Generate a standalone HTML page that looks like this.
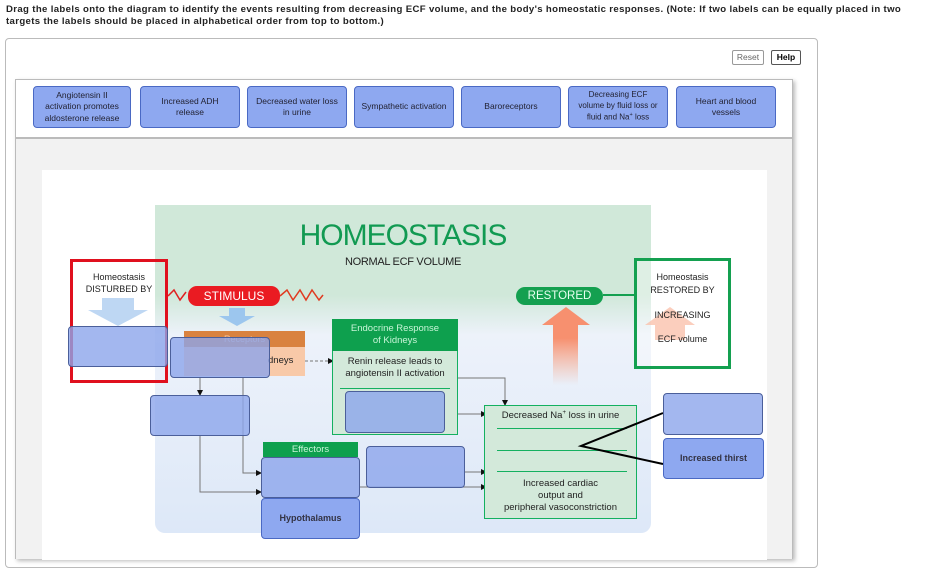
<!DOCTYPE html>
<html><head><meta charset="utf-8"><style>
*{box-sizing:border-box;margin:0;padding:0}
body{width:937px;height:554px;overflow:hidden;background:#fff;font-family:"Liberation Sans",Arial,sans-serif;position:relative}
.a{position:absolute}
.lbl{position:absolute;background:#8ea8f0;border:1px solid #4a69c4;border-radius:4px;font-size:8.5px;color:#223;display:flex;align-items:center;justify-content:center;text-align:center;line-height:1.35}
.drop{position:absolute;background:rgba(140,165,235,0.8);border:1.5px solid #4b5f9a;border-radius:4px}
.t{position:absolute;text-align:center;font-size:9px;color:#222}
</style></head><body>
<div class="a" style="left:6px;top:4px;width:912px;font-size:9.6px;letter-spacing:0.35px;font-weight:bold;color:#222;line-height:12px;white-space:nowrap">Drag the labels onto the diagram to identify the events resulting from decreasing ECF volume, and the body's homeostatic responses. (Note: If two labels can be equally placed in two<br>targets the labels should be placed in alphabetical order from top to bottom.)</div>
<div class="a" style="left:5px;top:38px;width:813px;height:530px;border:1px solid #bbb;border-radius:4px"></div>
<div class="a" style="left:732px;top:50px;width:32px;height:15px;border:1px solid #999;border-radius:2px;font-size:8.5px;color:#666;text-align:center;line-height:13px">Reset</div>
<div class="a" style="left:771px;top:50px;width:30px;height:15px;border:1px solid #555;border-radius:2px;font-size:8.5px;font-weight:bold;text-align:center;line-height:13px">Help</div>
<div class="a" style="left:15px;top:79px;width:778px;height:480px;border:1px solid #bbb;box-shadow:2px 2px 4px #bbb"></div>
<div class="a" style="left:16px;top:137px;width:776px;height:2px;background:#bbb"></div>
<div class="a" style="left:16px;top:139px;width:776px;height:420px;background:#f2f2f2"></div>
<div class="a" style="left:42px;top:170px;width:725px;height:390px;background:#fff"></div>

<div class="lbl" style="left:33px;top:86px;width:98px;height:42px"><span>Angiotensin II<br>activation promotes<br>aldosterone release</span></div>
<div class="lbl" style="left:140px;top:86px;width:100px;height:42px"><span>Increased ADH<br>release</span></div>
<div class="lbl" style="left:247px;top:86px;width:100px;height:42px"><span>Decreased water loss<br>in urine</span></div>
<div class="lbl" style="left:354px;top:86px;width:100px;height:42px"><span>Sympathetic activation</span></div>
<div class="lbl" style="left:461px;top:86px;width:100px;height:42px"><span>Baroreceptors</span></div>
<div class="lbl" style="left:568px;top:86px;width:100px;height:42px;font-size:8px"><span>Decreasing ECF<br>volume by fluid loss or<br>fluid and Na<sup style="font-size:5.5px">+</sup> loss</span></div>
<div class="lbl" style="left:676px;top:86px;width:100px;height:42px"><span>Heart and blood<br>vessels</span></div>

<div class="a" style="left:155px;top:205px;width:496px;height:328px;border-radius:0 0 10px 10px;background:linear-gradient(#d0e8d9 0,#d0e8d9 90px,#edf2fa 130px,#dde8f8 100%)"></div>
<div class="t" style="left:155px;top:219px;width:496px;font-size:30px;color:#119a52;letter-spacing:-1px">HOMEOSTASIS</div>
<div class="t" style="left:155px;top:256px;width:496px;font-size:11px;letter-spacing:-0.3px">NORMAL ECF VOLUME</div>

<svg class="a" style="left:0;top:0" width="937" height="554">
<defs>
<linearGradient id="lg" x1="0" x2="1"><stop offset="0" stop-color="#e0552a"/><stop offset="1" stop-color="#2aa856"/></linearGradient>
<linearGradient id="ra" x1="0" y1="1" x2="0" y2="0"><stop offset="0" stop-color="#f9a88a" stop-opacity="0"/><stop offset="0.6" stop-color="#f7906f"/></linearGradient>
</defs>
<polyline points="168,296 174,290 180,300 186,292" fill="none" stroke="#e02020" stroke-width="1.5"/>
<polyline points="280,296 287,290 293,300 300,290 306,300 312,290 319,300 323,295" fill="none" stroke="#e03a20" stroke-width="1.5"/>
<line x1="323" y1="295" x2="516" y2="295" stroke="url(#lg)" stroke-width="1.5"/>
<line x1="603" y1="295" x2="634" y2="295" stroke="#14a050" stroke-width="2"/>
<path d="M102,298h32v12h14l-30,16l-30,-16h14z" fill="#b7d3f2" opacity="0.9"/>
<path d="M229,308h16v8h10l-18,10l-18,-10h10z" fill="#9cc6ee"/>
<path d="M553,325v60h25v-60h12l-24,-18l-24,18z" fill="url(#ra)"/>
<path d="M655,325v15h30v-15h10l-25,-18l-25,18z" fill="#f7a88a" opacity="0.8"/>
<g stroke="#777" stroke-width="1" fill="none">
<line x1="305" y1="361" x2="328" y2="361" stroke-dasharray="3,2"/>
<polyline points="458,378 505,378 505,401"/>
<line x1="458" y1="414" x2="481" y2="414"/>
<line x1="200" y1="378" x2="200" y2="391"/>
<polyline points="243,378 243,473 258,473"/>
<polyline points="200,436 200,492 258,492"/>
<line x1="465" y1="472" x2="481" y2="472"/>
<line x1="360" y1="487" x2="481" y2="487"/>
</g>
<g fill="#111">
<path d="M328,358l6,3l-6,3z"/><path d="M502,400l3,6l3,-6z"/><path d="M481,411l6,3l-6,3z"/>
<path d="M197,390l3,6l3,-6z"/><path d="M256,470l6,3l-6,3z"/><path d="M256,489l6,3l-6,3z"/>
<path d="M481,469l6,3l-6,3z"/><path d="M481,484l6,3l-6,3z"/>
</g>
</svg>

<div class="a" style="left:70px;top:259px;width:98px;height:124px;border:3px solid #e0101e"></div>
<div class="t" style="left:70px;top:271px;width:98px;font-size:9px;line-height:12px">Homeostasis<br>DISTURBED BY</div>
<div class="a" style="left:188px;top:286px;width:92px;height:20px;background:#ea1b22;border-radius:9px;color:#fff;font-size:12px;text-align:center;line-height:20px">STIMULUS</div>
<div class="a" style="left:516px;top:287px;width:87px;height:18px;background:#14a050;border-radius:9px;color:#e8fff0;font-size:11.5px;text-align:center;line-height:18px">RESTORED</div>
<div class="a" style="left:634px;top:258px;width:97px;height:111px;border:3px solid #14a050;background:rgba(255,255,255,0.3)"></div>
<div class="t" style="left:634px;top:271px;width:97px;font-size:9px;line-height:13px">Homeostasis<br>RESTORED BY</div>
<div class="t" style="left:634px;top:310px;width:97px;font-size:9px">INCREASING</div>
<div class="t" style="left:634px;top:334px;width:97px;font-size:9px">ECF volume</div>

<div class="a" style="left:184px;top:331px;width:121px;height:16px;background:#d9823f;color:#f6c9a4;font-size:9px;text-align:center;line-height:16px">Receptors</div>
<div class="a" style="left:184px;top:347px;width:121px;height:29px;background:#f8c9a8"></div>
<div class="a" style="left:268px;top:355px;font-size:9.5px;color:#222">dneys</div>
<div class="a" style="left:332px;top:319px;width:126px;height:116px;border:1.5px solid #14b060;background:#d3e9da"></div>
<div class="a" style="left:332px;top:319px;width:126px;height:32px;background:#0ea04e;color:#c8f5d8;font-size:9.5px;text-align:center;line-height:12px;padding-top:4px">Endocrine Response<br>of Kidneys</div>
<div class="t" style="left:332px;top:356px;width:126px;font-size:9.5px;line-height:12px">Renin release leads to<br>angiotensin II activation</div>
<div class="a" style="left:340px;top:388px;width:110px;height:1px;background:#14b060"></div>
<div class="a" style="left:263px;top:442px;width:95px;height:15px;background:#0ea04e;color:#c8f5d8;font-size:9.5px;text-align:center;line-height:15px">Effectors</div>
<div class="a" style="left:484px;top:405px;width:153px;height:114px;border:1.5px solid #14b060;background:#d3e9da"></div>
<div class="t" style="left:484px;top:410px;width:153px;font-size:9.5px">Decreased Na<sup style="font-size:6px">+</sup> loss in urine</div>
<div class="a" style="left:497px;top:428px;width:130px;height:1px;background:#14b060"></div>
<div class="a" style="left:497px;top:450px;width:130px;height:1px;background:#14b060"></div>
<div class="a" style="left:497px;top:471px;width:130px;height:1px;background:#14b060"></div>
<div class="t" style="left:484px;top:478px;width:153px;font-size:9.5px;line-height:12px">Increased cardiac<br>output and<br>peripheral vasoconstriction</div>

<svg class="a" style="left:0;top:0" width="937" height="554">
<polyline points="663,413 581,446 663,464" fill="none" stroke="#000" stroke-width="2"/>
</svg>

<div class="drop" style="left:68px;top:326px;width:100px;height:41px"></div>
<div class="drop" style="left:170px;top:337px;width:100px;height:41px"></div>
<div class="drop" style="left:150px;top:395px;width:100px;height:41px"></div>
<div class="drop" style="left:345px;top:391px;width:100px;height:42px"></div>
<div class="drop" style="left:261px;top:457px;width:99px;height:41px"></div>
<div class="drop" style="left:366px;top:446px;width:99px;height:42px"></div>
<div class="drop" style="left:663px;top:393px;width:100px;height:42px"></div>
<div class="lbl" style="left:261px;top:498px;width:99px;height:41px;font-size:9px;font-weight:bold;color:#334">Hypothalamus</div>
<div class="lbl" style="left:663px;top:438px;width:101px;height:41px;font-size:9px;font-weight:bold;color:#334">Increased thirst</div>
</body></html>
